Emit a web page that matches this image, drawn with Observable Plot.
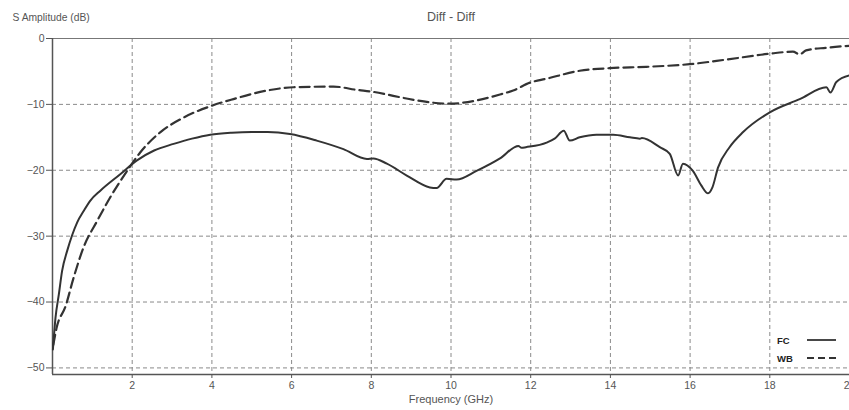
<!DOCTYPE html>
<html>
<head>
<meta charset="utf-8">
<script src="https://cdn.jsdelivr.net/npm/d3@7"></script>
<script src="https://cdn.jsdelivr.net/npm/@observablehq/plot@0.6"></script>
<style>
  html, body { margin: 0; padding: 0; background: #fff; overflow: hidden; }
  #wrap { position: relative; width: 849px; height: 410px; }
  #legend { position: absolute; left: 777px; top: 331px; font-family: "Liberation Sans", Arial, sans-serif; font-weight: bold; font-size: 9.5px; color: #222; }
  #legend div { display: flex; align-items: center; height: 18px; }
  #legend span { display: inline-block; width: 30px; }
</style>
</head>
<body>
<div id="wrap"></div>
<script>
// Data
const title = "Diff - Diff";
const yLabel = "S Amplitude (dB)";
const xLabel = "Frequency (GHz)";
const xTicks = [2, 4, 6, 8, 10, 12, 14, 16, 18, 20];
const yTicks = [0, -10, -20, -30, -40, -50];
const xDomain = [0, 20];
const yDomain = [-51, 0];
const seriesNames = ["FC", "WB"];

const freqFC = [0.01,0.075,0.16,0.24,0.37,0.49,0.62,0.79,0.95,1.2,1.7,2.12,2.55,3.04,3.5,3.96,4.5,5.0,5.4,5.96,6.63,7.3,7.89,8.05,8.39,8.89,9.47,9.64,9.89,10.14,10.64,11.23,11.69,11.77,11.88,12.4,12.6,12.83,12.98,13.23,13.65,14.07,14.49,14.74,14.79,15.24,15.49,15.7,15.82,16.07,16.28,16.45,16.56,16.7,16.99,17.33,18.0,18.75,19.42,19.52,19.67,20.0];
const dbFC = [-47.2,-42.4,-38.8,-35.3,-32.2,-29.9,-27.9,-26.1,-24.6,-23.1,-20.6,-18.5,-17.0,-16.0,-15.2,-14.6,-14.3,-14.2,-14.2,-14.5,-15.5,-16.8,-18.3,-18.2,-19.0,-20.8,-22.6,-22.7,-21.3,-21.4,-20.1,-18.2,-16.3,-16.6,-16.5,-15.8,-15.2,-14.0,-15.5,-15.0,-14.6,-14.6,-15.0,-15.2,-15.1,-16.5,-17.5,-20.8,-19.0,-20.1,-22.3,-23.5,-22.6,-19.6,-16.5,-14.2,-11.2,-9.2,-7.4,-8.2,-6.6,-5.6];

const freqWB = [0.02,0.1,0.33,0.53,0.78,1.12,1.45,1.87,2.2,2.71,3.29,4.0,4.54,5.38,6.05,7.05,7.64,8.05,8.55,9.14,9.97,10.64,11.23,11.56,11.98,12.4,13.23,13.98,14.9,15.99,16.91,18.0,18.58,18.75,18.91,19.42,20.0];
const dbWB = [-46.5,-44.0,-40.6,-36.3,-31.7,-27.7,-24.1,-20.1,-17.3,-14.2,-12.0,-10.2,-9.2,-7.9,-7.4,-7.3,-7.8,-8.1,-8.7,-9.4,-9.9,-9.4,-8.5,-7.9,-6.7,-6.1,-4.9,-4.5,-4.3,-3.9,-3.2,-2.3,-2.0,-2.4,-1.8,-1.4,-1.1];

const fc = freqFC.map((f, i) => ({f, db: dbFC[i]}));
const wb = freqWB.map((f, i) => ({f, db: dbWB[i]}));

const lineColor = "#333";
const gridColor = "#8a8a8a";
const font = "'Liberation Sans Narrow', 'Liberation Sans', Arial, sans-serif";

const chart = Plot.plot({
  width: 849,
  height: 410,
  marginLeft: 52,
  marginRight: 0,
  marginTop: 38,
  marginBottom: 36,
  style: { fontFamily: font, fontSize: "10px", color: "#555", background: "#fff", overflow: "visible" },
  x: { domain: xDomain, ticks: xTicks, tickSize: 4, tickPadding: 3, label: null },
  y: { domain: yDomain, ticks: yTicks, tickSize: 6, tickPadding: 2, label: null },
  marks: [
    Plot.gridX(xTicks, { stroke: gridColor, strokeOpacity: 1, strokeDasharray: "4,3" }),
    Plot.gridY(yTicks.filter(d => d !== 0), { stroke: gridColor, strokeOpacity: 1, strokeDasharray: "4,3" }),
    Plot.ruleY([yDomain[1]], { stroke: "#777", strokeWidth: 1.2 }),
    Plot.ruleY([yDomain[0]], { stroke: "#555", strokeWidth: 1.5 }),
    Plot.ruleX([xDomain[0]], { stroke: "#555", strokeWidth: 1.5 }),
    Plot.axisX({ ticks: xTicks, tickSize: 4, tickPadding: 3, stroke: "#555", fill: "#555", fontSize: 10.5 }),
    Plot.axisY({ ticks: yTicks, tickSize: 6, tickPadding: 2, stroke: "#555", fill: "#555", fontSize: 10.5 }),
    Plot.line(wb, { x: "f", y: "db", stroke: lineColor, strokeWidth: 2.2, strokeDasharray: "10,5", curve: "monotone-x" }),
    Plot.line(fc, { x: "f", y: "db", stroke: lineColor, strokeWidth: 2, curve: "monotone-x" }),
    Plot.text([title], { frameAnchor: "top", dy: -26, fontSize: 12.5, fill: "#555" }),
    Plot.text([yLabel], { frameAnchor: "top-left", dx: -40, dy: -25, textAnchor: "start", fontSize: 10.3, fill: "#555" }),
    Plot.text([xLabel], { frameAnchor: "bottom", dy: 28, fontSize: 11, fill: "#555" })
  ]
});
document.getElementById("wrap").appendChild(chart);

// Legend
const legend = document.createElement("div");
legend.id = "legend";
const dashes = { FC: null, WB: "7,4" };
seriesNames.forEach(name => {
  const row = document.createElement("div");
  const label = document.createElement("span");
  label.textContent = name;
  row.appendChild(label);
  const svgNS = "http://www.w3.org/2000/svg";
  const s = document.createElementNS(svgNS, "svg");
  s.setAttribute("width", 30); s.setAttribute("height", 6);
  const l = document.createElementNS(svgNS, "line");
  l.setAttribute("x1", 0); l.setAttribute("x2", 29); l.setAttribute("y1", 3); l.setAttribute("y2", 3);
  l.setAttribute("stroke", lineColor); l.setAttribute("stroke-width", 1.8);
  if (dashes[name]) l.setAttribute("stroke-dasharray", dashes[name]);
  s.appendChild(l);
  row.appendChild(s);
  legend.appendChild(row);
});
document.getElementById("wrap").appendChild(legend);
</script>
</body>
</html>
